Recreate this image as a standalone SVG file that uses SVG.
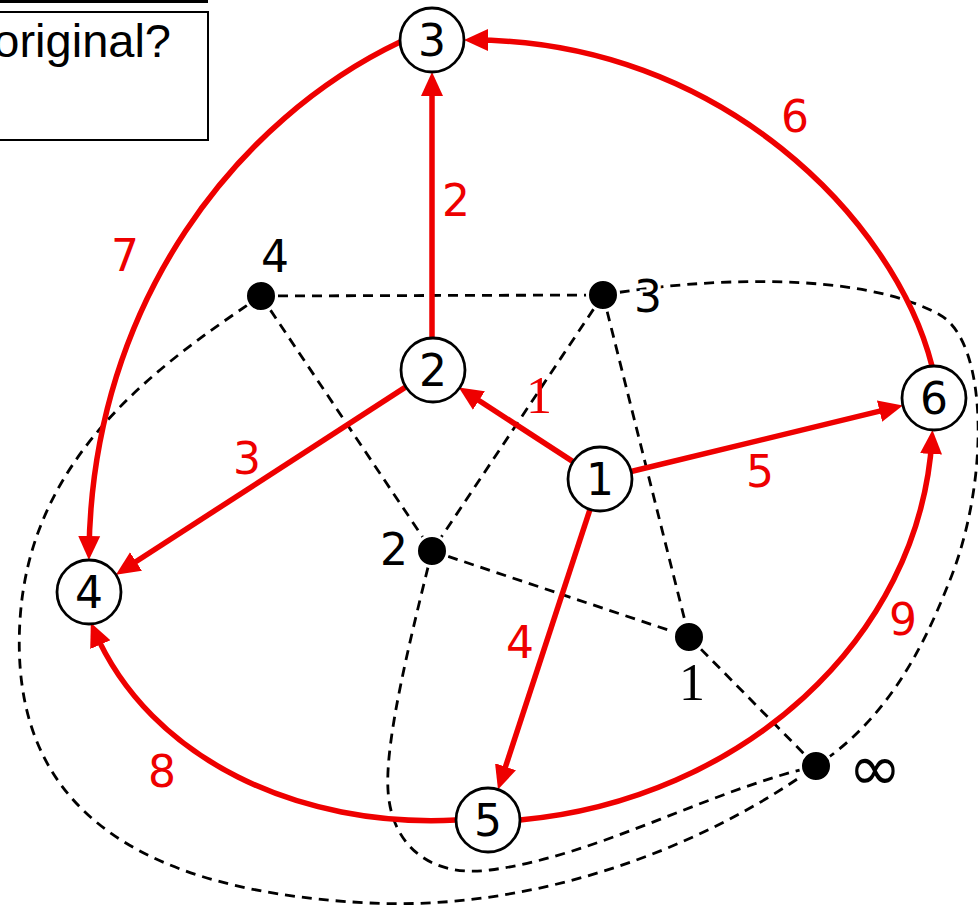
<svg xmlns="http://www.w3.org/2000/svg" width="978" height="906" viewBox="0 0 978 906">
<style>
.red{fill:none;stroke:#ee0000;stroke-width:5.5;marker-end:url(#ah)}
.dash{fill:none;stroke:#000;stroke-width:2.8;stroke-dasharray:10 7}
.node circle{fill:#fff;stroke:#000;stroke-width:2.8}
.dot{fill:#000;stroke:#fff;stroke-width:3}
.lbl{font-family:"DejaVu Sans",sans-serif;font-size:44px;text-anchor:middle;fill:#000}
.rl{font-family:"DejaVu Sans",sans-serif;font-size:44px;text-anchor:middle;fill:#ee0000}
.ser{font-family:"Liberation Serif",serif;font-size:52px}
.inf{font-size:64px}
</style>
<defs>
<marker id="ah" markerUnits="userSpaceOnUse" viewBox="0 -12 26 24" refX="16" refY="0" markerWidth="26" markerHeight="24" orient="auto">
<path d="M0,-11 L24,0 L0,11 Z" fill="#ee0000"/>
</marker>
</defs>
<rect width="978" height="906" fill="#fff"/>

<g id="legend">
<line x1="0" y1="1.5" x2="208" y2="1.5" stroke="#000" stroke-width="2.8"/>
<rect x="-10" y="12" width="218" height="128" fill="#fff" stroke="#000" stroke-width="2"/>
<text x="171" y="57" font-family="Liberation Sans, sans-serif" font-size="47" text-anchor="end">original?</text>
</g>

<g id="dual-edges">
<path class="dash" d="M261,296 L603,295"/>
<path class="dash" d="M261,296 L432,551"/>
<path class="dash" d="M603,295 L432,551"/>
<path class="dash" d="M603,295 L689,637"/>
<path class="dash" d="M432,551 L689,637"/>
<path class="dash" d="M689,637 L816,766"/>
<path class="dash" d="M603,295 C700,278 860,270 940,315 C988,342 990,480 950,580 C930,630 895,715 816,766"/>
<path class="dash" d="M261,296 C150,370 30,460 20,620 C10,780 100,890 370,903 C532,911 700,850 816,766"/>
<path class="dash" d="M432,551 C410,640 385,740 388,790 C391,845 430,878 490,870 C598,856 710,790 816,766"/>
</g>

<g id="edges">
<path class="red" d="M573,461.6 L465.5,391.8"/>
<path class="red" d="M432,338 L432,80"/>
<path class="red" d="M405.1,387.4 L122.6,570.3"/>
<path class="red" d="M590,509.4 L500.5,782"/>
<path class="red" d="M631.1,471.5 L895.1,407.4"/>
<path class="red" d="M932,366 C895,220 720,40 472,40"/>
<path class="red" d="M400,42 C240,118 92,300 89,552"/>
<path class="red" d="M456,820 C300,828 150,760 94,630"/>
<path class="red" d="M520,820 C740,800 920,640 932,438"/>
</g>

<g id="edge-labels">
<text class="rl ser" x="539" y="413">1</text>
<text class="rl" x="456" y="216">2</text>
<text class="rl" x="247" y="474">3</text>
<text class="rl" x="520" y="658">4</text>
<text class="rl" x="760" y="487">5</text>
<text class="rl" x="795" y="132">6</text>
<text class="rl" x="125" y="271">7</text>
<text class="rl" x="162" y="787">8</text>
<text class="rl" x="903" y="635">9</text>
</g>

<g id="d4"><circle class="dot" cx="261" cy="296" r="15.5"/><text class="lbl" x="275" y="272">4</text></g>
<g id="d3"><circle class="dot" cx="603" cy="295" r="15.5"/><text class="lbl" x="648" y="312" stroke="#fff" stroke-width="6" paint-order="stroke">3</text></g>
<g id="d2"><circle class="dot" cx="432" cy="551" r="15.5"/><text class="lbl" x="394" y="565">2</text></g>
<g id="d1"><circle class="dot" cx="689" cy="637" r="15.5"/><text class="lbl ser" x="692" y="700">1</text></g>
<g id="dinf"><circle class="dot" cx="816" cy="766" r="15.5"/><text class="lbl inf" x="875" y="790">∞</text></g>

<g id="n3" class="node"><circle cx="432" cy="40" r="32"/><text class="lbl" x="432" y="56">3</text></g>
<g id="n2" class="node"><circle cx="433" cy="370" r="32"/><text class="lbl" x="433" y="386">2</text></g>
<g id="n6" class="node"><circle cx="934" cy="398" r="32"/><text class="lbl" x="934" y="414">6</text></g>
<g id="n1" class="node"><circle cx="600" cy="479" r="32"/><text class="lbl" x="600" y="495">1</text></g>
<g id="n4" class="node"><circle cx="89" cy="592" r="32"/><text class="lbl" x="89" y="608">4</text></g>
<g id="n5" class="node"><circle cx="488" cy="820" r="32"/><text class="lbl" x="488" y="836">5</text></g>
</svg>
